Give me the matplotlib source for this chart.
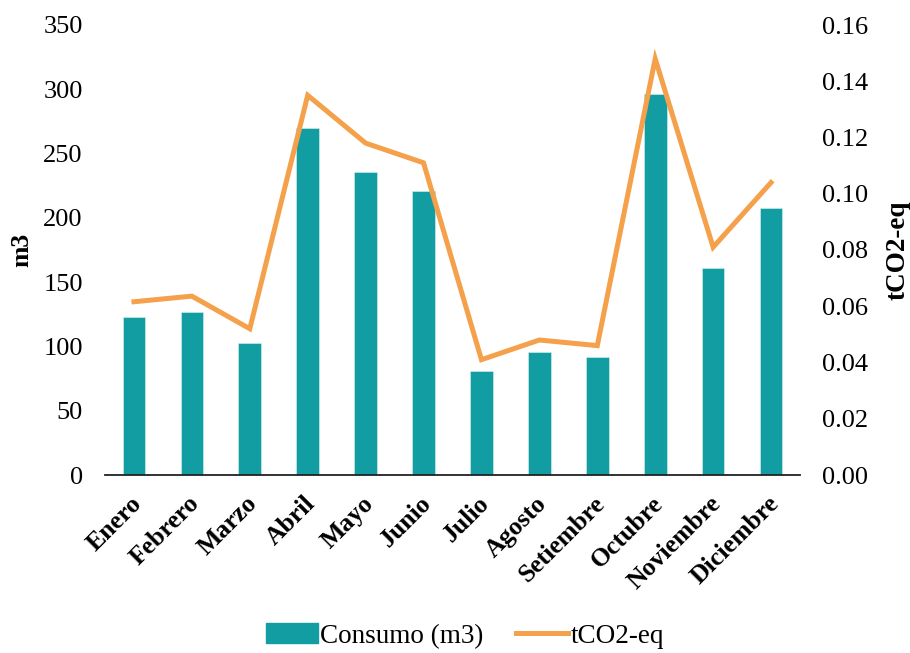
import numpy as np
import matplotlib.pyplot as plt
from matplotlib.lines import Line2D
from matplotlib.patches import Patch
from matplotlib.transforms import ScaledTranslation

meses = ["Enero", "Febrero", "Marzo", "Abril", "Mayo", "Junio", "Julio",
         "Agosto", "Setiembre", "Octubre", "Noviembre", "Diciembre"]
consumo_m3 = [123, 127, 103, 270, 236, 221, 81, 96, 92, 296, 161, 208]
tco2_eq = [0.0616, 0.0636, 0.052, 0.135, 0.118, 0.111, 0.041, 0.048,
           0.046, 0.148, 0.081, 0.104]

teal = "#129DA3"
orange = "#F5A04B"

plt.rcParams["font.family"] = ["Liberation Serif", "DejaVu Serif"]

fig = plt.figure(figsize=(9.1, 6.53), dpi=100)
ax = fig.add_axes([105 / 910, 1 - 475 / 653, 695 / 910, 450 / 653])
ax2 = ax.twinx()

x = np.arange(len(meses))
ax.bar(x, consumo_m3, width=0.39, color=teal, edgecolor="#d8f0f0",
       linewidth=0.4, zorder=2)
ax2.plot(x, tco2_eq, color=orange, linewidth=3.6, solid_joinstyle="miter",
         zorder=3)

ax.set_xlim(-0.5, 11.5)
ax.set_ylim(0, 350)
ax.set_yticks(np.arange(0, 351, 50))
ax2.set_ylim(0, 0.16)
ax2.set_yticks(np.arange(0, 0.161, 0.02))
ax2.set_yticklabels([f"{v:.2f}" for v in np.arange(0, 0.161, 0.02)])

for a in (ax, ax2):
    for s in ("top", "left", "right", "bottom"):
        a.spines[s].set_visible(False)
    a.tick_params(length=0, labelsize=19)
ax.spines["bottom"].set_visible(True)
ax.spines["bottom"].set_color("#222222")
ax.spines["bottom"].set_linewidth(1.3)
ax.tick_params(axis="y", pad=16)
ax2.tick_params(axis="y", pad=16)

ax.set_xticks(x)
ax.set_xticklabels(meses, rotation=45, ha="right", va="center",
                   rotation_mode="anchor", fontsize=18.5, fontweight="bold")
ax.tick_params(axis="x", pad=18)
# nudge month labels a little to the right
shift = ScaledTranslation(4 / 100, 0, fig.dpi_scale_trans)
for lbl in ax.get_xticklabels():
    lbl.set_transform(lbl.get_transform() + shift)

ax.set_ylabel("m3", fontsize=18.5, fontweight="bold", labelpad=7)
ax2.set_ylabel("tCO2-eq", fontsize=19.5, fontweight="bold", labelpad=12)

handles = [Patch(facecolor=teal, edgecolor=teal),
           Line2D([0], [0], color=orange, linewidth=3.6)]
fig.legend(handles, ["Consumo (m3)", "tCO2-eq"], loc="center",
           bbox_to_anchor=(465 / 910, 1 - 636 / 653), ncol=2, frameon=False,
           fontsize=19.5, handlelength=1.9, handleheight=0.75,
           handletextpad=0.1, columnspacing=1.2)

fig.savefig("out.png", dpi=100)
